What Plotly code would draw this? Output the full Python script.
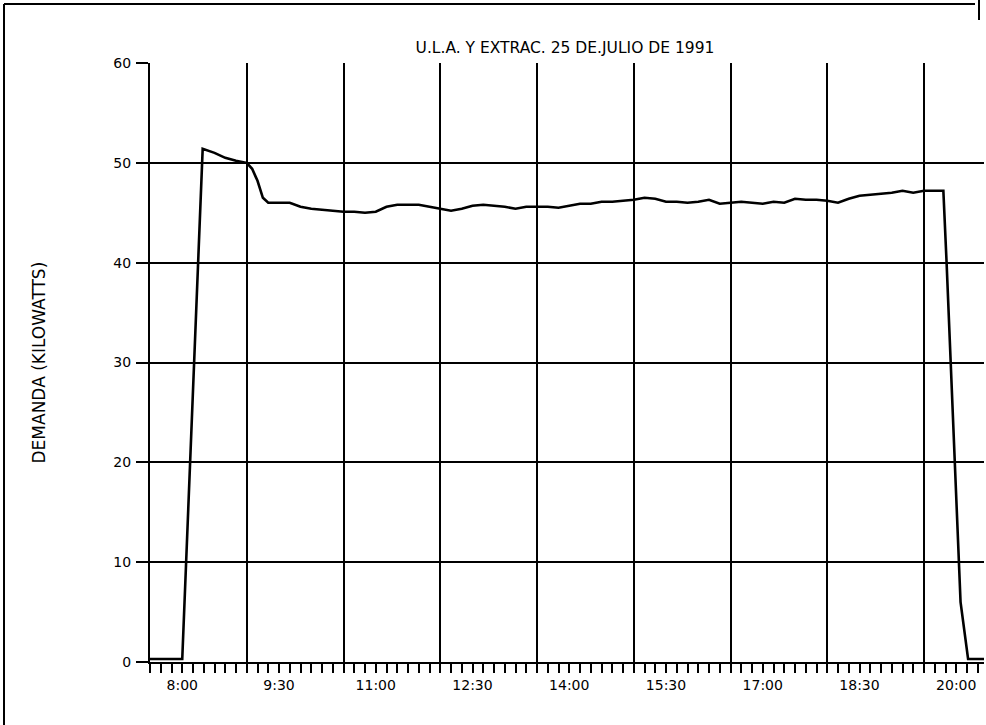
import plotly.graph_objects as go

# ---- data ----
times = ["7:30", "8:00", "8:19", "8:30", "8:40", "8:50", "9:00", "9:05", "9:10", "9:15", "9:20",
         "9:30", "9:40", "9:50", "10:00", "10:10", "10:20", "10:30", "10:40", "10:50", "11:00",
         "11:10", "11:20", "11:30", "11:40", "11:50", "12:00", "12:10", "12:20", "12:30", "12:40",
         "12:50", "13:00", "13:10", "13:20", "13:30", "13:40", "13:50", "14:00", "14:10", "14:20",
         "14:30", "14:40", "14:50", "15:00", "15:10", "15:20", "15:30", "15:40", "15:50", "16:00",
         "16:10", "16:20", "16:30", "16:40", "16:50", "17:00", "17:10", "17:20", "17:30", "17:40",
         "17:50", "18:00", "18:10", "18:20", "18:30", "18:40", "18:50", "19:00", "19:10", "19:20",
         "19:30", "19:40", "19:48", "19:51", "20:04", "20:11", "20:26"]
demand_kw = [0.3, 0.3, 51.4, 51.0, 50.5, 50.2, 50.0, 49.4, 48.2, 46.5, 46.0,
             46.0, 46.0, 45.6, 45.4, 45.3, 45.2, 45.1, 45.1, 45.0, 45.1,
             45.6, 45.8, 45.8, 45.8, 45.6, 45.4, 45.2, 45.4, 45.7, 45.8,
             45.7, 45.6, 45.4, 45.6, 45.6, 45.6, 45.5, 45.7, 45.9, 45.9,
             46.1, 46.1, 46.2, 46.3, 46.5, 46.4, 46.1, 46.1, 46.0, 46.1,
             46.3, 45.9, 46.0, 46.1, 46.0, 45.9, 46.1, 46.0, 46.4, 46.3,
             46.3, 46.2, 46.0, 46.4, 46.7, 46.8, 46.9, 47.0, 47.2, 47.0,
             47.2, 47.2, 47.2, 40.0, 6.0, 0.3, 0.3]

tick_labels = ["8:00", "9:30", "11:00", "12:30", "14:00", "15:30", "17:00", "18:30", "20:00"]
grid_times = ["7:30", "9:00", "10:30", "12:00", "13:30", "15:00", "16:30", "18:00", "19:30"]
y_ticks = [0, 10, 20, 30, 40, 50, 60]
title_text = "U.L.A. Y EXTRAC. 25 DE.JULIO DE 1991"
y_title = "DEMANDA (KILOWATTS)"


def to_hours(s):
    h, m = s.split(":")
    return int(h) + int(m) / 60.0


x_hours = [to_hours(t) for t in times]
label_pos = [to_hours(t) for t in tick_labels]
grid_pos = [to_hours(t) for t in grid_times]
x_range = [7.5, 20.43]

FONT = "DejaVu Sans"
PW, PH = 834, 599  # plot area size in px

fig = go.Figure()
fig.add_trace(go.Scatter(x=x_hours, y=demand_kw, mode="lines",
                         line=dict(color="black", width=2.6), xaxis="x", yaxis="y",
                         hoverinfo="skip", showlegend=False))
# invisible companion trace so the label axis is drawn
fig.add_trace(go.Scatter(x=x_hours, y=demand_kw, mode="lines",
                         line=dict(color="rgba(0,0,0,0)", width=0), xaxis="x2", yaxis="y",
                         hoverinfo="skip", showlegend=False))

fig.update_layout(
    width=986, height=725,
    paper_bgcolor="white", plot_bgcolor="white",
    margin=dict(l=150, r=2, t=63, b=63),
    font=dict(family=FONT, color="black", size=14),
    title=dict(text=title_text, x=0.573, xanchor="center", y=0.935, yanchor="middle",
               font=dict(family=FONT, size=15.5, color="black")),
    xaxis=dict(range=x_range, tickmode="array", tickvals=grid_pos,
               ticktext=[""] * len(grid_pos),
               showgrid=True, gridcolor="black", gridwidth=2,
               ticks="outside", ticklen=9, tickwidth=2, tickcolor="black",
               showline=True, linecolor="black", linewidth=2,
               zeroline=False,
               minor=dict(tick0=7.5, dtick=1 / 6, ticks="outside", ticklen=9,
                          tickwidth=2, tickcolor="black", showgrid=False)),
    xaxis2=dict(range=x_range, overlaying="x", anchor="y", side="bottom",
                tickmode="array", tickvals=label_pos, ticktext=tick_labels,
                showgrid=False, ticks="", showline=False, zeroline=False,
                ticklabelstandoff=13,
                tickfont=dict(family=FONT, size=14, color="black")),
    yaxis=dict(range=[0, 60], tickmode="array", tickvals=y_ticks,
               showgrid=True, gridcolor="black", gridwidth=2,
               ticks="outside", ticklen=12, tickwidth=2, tickcolor="black",
               showline=True, linecolor="black", linewidth=2, zeroline=False,
               ticklabelstandoff=2,
               tickfont=dict(family=FONT, size=14, color="black")),
    annotations=[dict(text=y_title, textangle=-90, xref="paper", yref="paper",
                      x=(38 - 150) / PW, y=0.5, xanchor="center", yanchor="middle",
                      showarrow=False, font=dict(family=FONT, size=17, color="black"))],
    shapes=[
        # document frame of the scanned page
        dict(type="line", xref="paper", yref="paper", x0=-146 / PW, x1=-146 / PW,
             y0=-63 / PH, y1=1 + 59 / PH, line=dict(color="black", width=2)),
        dict(type="line", xref="paper", yref="paper", x0=-146 / PW, x1=(975 - 150) / PW,
             y0=1 + 59 / PH, y1=1 + 59 / PH, line=dict(color="black", width=2)),
        dict(type="line", xref="paper", yref="paper", x0=(979 - 150) / PW, x1=(979 - 150) / PW,
             y0=1 + 63 / PH, y1=1 + 43 / PH, line=dict(color="black", width=2)),
    ],
)

fig.write_html("out.html", config={"displayModeBar": False},
               post_script="document.body.style.margin='0px';")
